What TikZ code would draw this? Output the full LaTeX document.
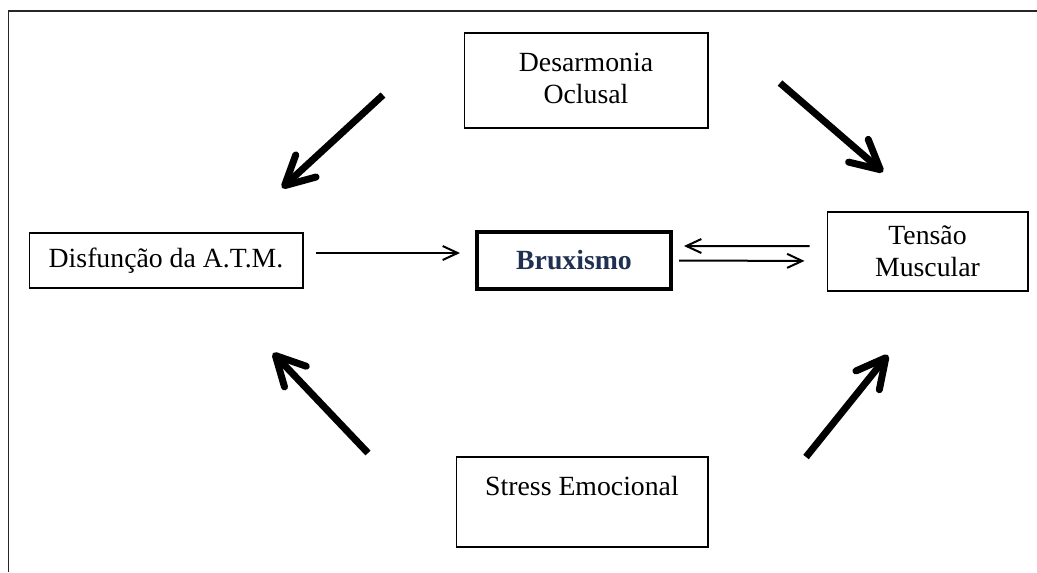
\documentclass[tikz,border=0pt]{standalone}
\usepackage{fontspec}
\setmainfont{Liberation Serif}
\usetikzlibrary{arrows.meta}
\definecolor{azulescuro}{HTML}{1F3050}
\begin{document}
\begin{tikzpicture}[x=0.02cm, y=-0.02cm,
    caixa/.style={draw, line width=0.6pt, align=center, inner sep=0pt, font=\fontsize{15.8}{18.2}\selectfont},
    seta/.style={line width=0.14cm, -{Straight Barb[length=0.58cm, width=0.6cm, round]}},
    setafina/.style={line width=0.04cm, -{Straight Barb[length=0.3cm, width=0.28cm]}}]
    \useasboundingbox (0,0) rectangle (1037,572);
    \draw[line width=0.04cm, black!85] (1037,10.5) -- (8.5,10.5) -- (8.5,572);
    \node[caixa, minimum width=4.88cm, minimum height=1.9cm] (desarm) at (586,80.5) {Desarmonia\\Oclusal\\[-0.55cm]~};
    \node[caixa, minimum width=5.48cm, minimum height=1.1cm] (disf) at (166,260.5) {Disfunção da A.T.M.};
    \node[caixa, line width=2.3pt, minimum width=3.88cm, minimum height=1.14cm, text=azulescuro, font=\fontsize{15.8}{18.2}\selectfont\bfseries] (brux) at (574,260.5) {Bruxismo};
    \node[caixa, minimum width=4.02cm, minimum height=1.58cm] (tensao) at (927.5,251.5) {Tensão\\Muscular};
    \node[caixa, minimum width=5.04cm, minimum height=1.8cm] (stress) at (582,502) {Stress Emocional\\~};
    \draw[setafina, shorten <=0.24cm, shorten >=0.3cm] ([yshift=0.15cm]disf.east) -- ([yshift=0.15cm]brux.west);
    \draw[setafina, shorten <=0.34cm, shorten >=0.22cm] ([yshift=0.11cm]tensao.west) -- ([yshift=0.29cm]brux.east);
    \draw[setafina, shorten <=0.12cm, shorten >=0.44cm] (brux.east) -- ([yshift=-0.19cm]tensao.west);
    \coordinate (ini1) at (383,95);  \coordinate (fim1) at (282,188);
    \coordinate (ini2) at (780,83);  \coordinate (fim2) at (883,172);
    \coordinate (ini3) at (368,453); \coordinate (fim3) at (273,353);
    \coordinate (ini4) at (806,457); \coordinate (fim4) at (888,355);
    \draw[seta] (ini1) -- (fim1);
    \draw[seta] (ini2) -- (fim2);
    \draw[seta] (ini3) -- (fim3);
    \draw[seta] (ini4) -- (fim4);
\end{tikzpicture}
\end{document}
